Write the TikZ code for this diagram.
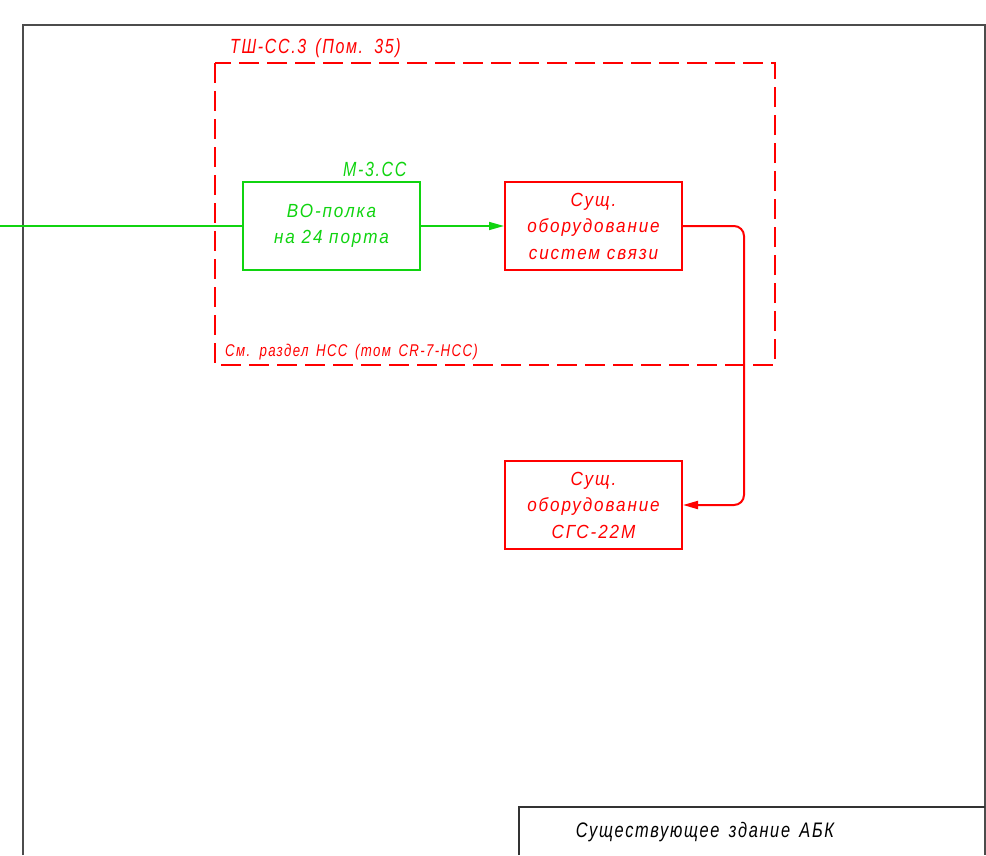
\documentclass[tikz,border=0pt]{standalone}
\usepackage{fontspec}
\usetikzlibrary{arrows.meta}
\newfontfamily\gost[FakeStretch=0.9,LetterSpace=10]{Liberation Sans}
\newfontfamily\gostn[FakeStretch=0.78,LetterSpace=8,WordSpace=1.5]{Liberation Sans}
\definecolor{schred}{RGB}{255,0,0}
\definecolor{schgreen}{RGB}{16,212,16}
\tikzset{
    unit/.style={draw, line width=2pt, minimum width=177pt, minimum height=88pt,
        inner sep=0pt, align=center, font=\gost\itshape\fontsize{19}{26.5}\selectfont},
    note/.style={inner sep=0pt, anchor=base west, font=\gostn\itshape\fontsize{20.5}{24}\selectfont},
    feed/.style={line width=1.5pt, -{Triangle[length=15pt,width=8pt]}},
}
\begin{document}
\begin{tikzpicture}[x=1pt,y=-1pt]
    \useasboundingbox[fill=white] (0,0) rectangle (986,855);

    % sheet frame
    \draw[black!70, line width=1.6pt] (23,855) -- (23,25) -- (985,25) -- (985,855);
    \draw[black!80, line width=1.3pt] (519,855) -- (519,807) -- (985,807);
    \node[note, anchor=base, text=black, font=\gostn\itshape\fontsize{21}{24}\selectfont] (bldg) at (705,837) {Существующее здание АБК};

    % cabinet
    \draw[schred, line width=1.5pt, dash pattern=on 20pt off 8pt] (215,63) rectangle (775,365);
    \node[note, text=schred] (cab) at (230,53) {ТШ-СС.3 (Пом. 35)};
    \node[note, text=schred, font=\gostn\itshape\fontsize{17}{22}\selectfont] (ref) at (225,356) {См. раздел НСС (том CR-7-НСС)};

    % units
    \node[unit, draw=schgreen, text=schgreen] (shelf) at (331.5,226) {ВО-полка\\на 24 порта};
    \node[note, text=schgreen] (room) at (343,176) {М-3.СС};
    \node[unit, draw=schred, text=schred] (equip) at (593.5,226) {Сущ.\\оборудование\\систем связи};
    \node[unit, draw=schred, text=schred] (sgs) at (593.5,505) {Сущ.\\оборудование\\СГС-22М};

    % links
    \coordinate (in) at (0,226);
    \draw[schgreen, line width=1.5pt] (in) -- (shelf);
    \draw[feed, schgreen] (shelf) -- (equip);
    \draw[feed, schred, line width=2pt, rounded corners=10pt] (equip.east) -- ++(61,0) |- (sgs.east);
\end{tikzpicture}
\end{document}
